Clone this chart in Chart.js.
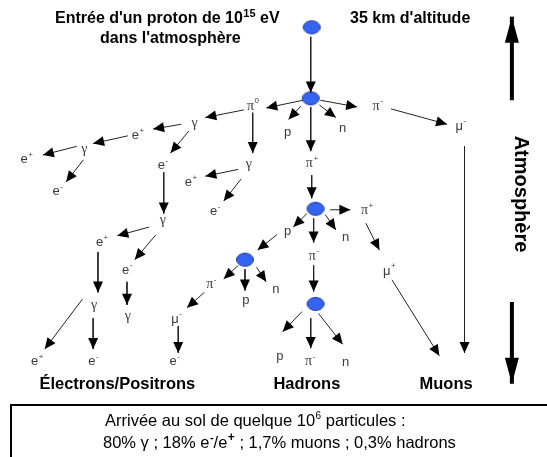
<!DOCTYPE html>
<html>
<head>
<meta charset="utf-8">
<script src="https://cdn.jsdelivr.net/npm/chart.js@4"></script>
<style>
  html, body { margin: 0; padding: 0; background: #fff; }
  canvas { display: block; }
</style>
</head>
<body>
<canvas id="myChart" width="547" height="457"></canvas>
<script>
// interaction points (blue circles)
var nodeX = [313, 312, 317, 244, 317];
var nodeY = [19, 93, 208, 261, 307];

// arrows: x1, y1, x2, y2
var arrows = [
    [312, 29, 312, 87], [304, 95, 266, 103], [302, 101, 289, 115], [321, 100, 338, 113],
    [322, 95, 360, 102], [312, 102, 312, 148], [395, 104, 453, 120], [471, 143, 471, 358],
    [252, 108, 252, 150], [243, 105, 203, 113], [178, 120, 149, 125], [186, 127, 167, 150],
    [123, 132, 87, 140], [70, 143, 35, 152], [77, 157, 59, 180], [160, 170, 160, 213],
    [237, 167, 203, 174], [240, 177, 222, 200], [145, 227, 112, 236], [152, 235, 130, 261],
    [92, 253, 92, 295], [122, 284, 122, 308], [76, 302, 37, 354], [87, 322, 87, 354],
    [313, 173, 313, 197], [332, 209, 353, 209], [308, 213, 294, 227], [315, 218, 315, 243],
    [327, 214, 338, 230], [277, 235, 257, 251], [237, 267, 222, 281], [244, 271, 244, 293],
    [256, 269, 266, 284], [315, 267, 315, 294], [202, 295, 184, 311], [175, 330, 175, 358],
    [303, 315, 283, 336], [312, 322, 312, 353], [320, 317, 345, 349], [369, 223, 383, 251],
    [396, 282, 445, 361]
];
// big side arrows
var sideArrows = [[520, 95, 520, 8], [520, 305, 520, 390]];

// particle labels: symbol, superscript, x, y
var particles = [
    ['π', '0', 252, 101], ['p', '', 288, 128], ['n', '', 345, 124], ['π', '-', 381, 101],
    ['μ', '-', 467, 122], ['π', '+', 313, 161], ['γ', '', 192, 119], ['γ', '', 248, 162],
    ['e', '+', 133, 132], ['γ', '', 78, 146], ['e', '+', 18, 157], ['e', '-', 50, 190],
    ['e', '-', 159, 163], ['γ', '', 159, 220], ['e', '+', 188, 181], ['e', '-', 213, 211],
    ['e', '+', 96, 243], ['e', '-', 122, 272], ['γ', '', 88, 308], ['γ', '', 123, 320],
    ['e', '+', 29, 367], ['e', '-', 87, 367], ['p', '', 288, 232], ['n', '', 348, 238],
    ['π', '+', 370, 210], ['π', '-', 315, 257], ['π', '-', 209, 287], ['p', '', 245, 303],
    ['n', '', 276, 292], ['μ', '-', 173, 323], ['e', '-', 171, 367], ['p', '', 280, 362],
    ['π', '-', 311, 367], ['n', '', 348, 368], ['μ', '+', 393, 273]
];

// group titles
var groupNames = ['Électrons/Positrons', 'Hadrons', 'Muons'];
var groupX = [112, 308, 452];
var groupY = [391, 391, 391];

// ellipse used as point style
var dot = document.createElement('canvas');
dot.width = 20; dot.height = 16;
(function () {
    var c = dot.getContext('2d');
    c.beginPath();
    c.ellipse(10, 8, 8.5, 6.5, 0, 0, Math.PI * 2);
    c.fillStyle = '#3464f0';
    c.fill();
    c.lineWidth = 1;
    c.strokeStyle = '#1f3b96';
    c.stroke();
})();

var datasets = [];
arrows.forEach(function (a) {
    datasets.push({
        data: [{x: a[0], y: a[1]}, {x: a[2], y: a[3]}],
        showLine: true, borderColor: '#222', borderWidth: 1,
        pointRadius: 0, clip: false, head: [11, 5]
    });
});
sideArrows.forEach(function (a) {
    datasets.push({
        data: [{x: a[0], y: a[1]}, {x: a[2], y: a[3]}],
        showLine: true, borderColor: '#000', borderWidth: 4,
        pointRadius: 0, clip: false, head: [26, 7]
    });
});
datasets.push({
    data: nodeX.map(function (x, i) { return {x: x, y: nodeY[i]}; }),
    pointStyle: dot, pointRadius: 8, showLine: false, clip: false
});

var arrowHeads = {
    id: 'arrowHeads',
    afterDatasetsDraw: function (chart) {
        var ctx = chart.ctx;
        chart.data.datasets.forEach(function (ds, i) {
            if (!ds.head) return;
            var pts = chart.getDatasetMeta(i).data;
            var p0 = pts[0], p1 = pts[1];
            var ang = Math.atan2(p1.y - p0.y, p1.x - p0.x);
            var L = ds.head[0], W = ds.head[1];
            ctx.save();
            ctx.translate(p1.x, p1.y);
            ctx.rotate(ang);
            ctx.beginPath();
            ctx.moveTo(0, 0);
            ctx.lineTo(-L, -W);
            ctx.lineTo(-L, W);
            ctx.closePath();
            ctx.fillStyle = '#000';
            ctx.fill();
            ctx.restore();
        });
    }
};

function supText(ctx, x, y, base, sup, baseFont, supFont, align) {
    ctx.font = baseFont;
    var wb = ctx.measureText(base).width;
    ctx.font = supFont;
    var ws = ctx.measureText(sup).width;
    var left = align === 'left' ? x : x - (wb + ws) / 2;
    ctx.textAlign = 'left';
    ctx.font = baseFont;
    ctx.fillText(base, left, y);
    ctx.font = supFont;
    ctx.fillText(sup, left + wb + 0.5, y - 5);
    return left + wb + ws + 0.5;
}

var texts = {
    id: 'texts',
    afterDraw: function (chart) {
        var ctx = chart.ctx, sx = chart.scales.x, sy = chart.scales.y;
        ctx.save();
        ctx.textBaseline = 'middle';
        ctx.fillStyle = '#3a3a3a';
        particles.forEach(function (p) {
            var serif = (p[0] === 'π' || p[0] === 'γ');
            var bf = serif ? '14px "Liberation Serif"' : '13px "Liberation Sans"';
            supText(ctx, sx.getPixelForValue(p[2]), sy.getPixelForValue(p[3]), p[0], p[1],
                bf, '8px "Liberation Sans"', 'center');
        });

        ctx.fillStyle = '#000';
        ctx.textAlign = 'center';
        ctx.font = 'bold 16.5px "Liberation Sans"';
        groupNames.forEach(function (g, i) {
            ctx.fillText(g, sx.getPixelForValue(groupX[i]), sy.getPixelForValue(groupY[i]));
        });

        // top captions
        var end = supText(ctx, 55, 19, "Entrée d'un proton de 10", '15',
            'bold 16px "Liberation Sans"', 'bold 11px "Liberation Sans"', 'left');
        ctx.font = 'bold 16px "Liberation Sans"';
        ctx.textAlign = 'left';
        ctx.fillText(' eV', end, 19);
        ctx.fillText("dans l'atmosphère", 100, 39);
        ctx.fillText("35 km d'altitude", 350, 19);

        // vertical caption
        ctx.save();
        ctx.translate(521, 194);
        ctx.rotate(Math.PI / 2);
        ctx.textAlign = 'center';
        ctx.font = 'bold 20px "Liberation Sans"';
        ctx.fillText('Atmosphère', 0, 0);
        ctx.restore();

        // bottom box
        ctx.lineWidth = 2;
        ctx.strokeStyle = '#000';
        ctx.strokeRect(11, 405, 545, 60);
        var f = '16.5px "Liberation Sans"', fs = '10px "Liberation Sans"';
        var e1 = supText(ctx, 105, 421, 'Arrivée au sol de quelque 10', '6', f, fs, 'left');
        ctx.font = f; ctx.textAlign = 'left';
        ctx.fillText(' particules :', e1, 421);
        var e2 = supText(ctx, 103, 443, '80% γ ; 18% e', '-', f, 'bold 11px "Liberation Sans"', 'left');
        ctx.font = f; ctx.textAlign = 'left';
        var e3 = supText(ctx, e2, 443, '/e', '+', f, 'bold 12px "Liberation Sans"', 'left');
        ctx.font = f; ctx.textAlign = 'left';
        ctx.fillText(' ; 1,7% muons ; 0,3% hadrons', e3, 443);
        ctx.restore();
    }
};

new Chart(document.getElementById('myChart').getContext('2d'), {
    type: 'scatter',
    data: { datasets: datasets },
    options: {
        responsive: false,
        animation: false,
        devicePixelRatio: 1,
        layout: { padding: 0 },
        plugins: { legend: { display: false }, tooltip: { enabled: false } },
        scales: {
            x: { type: 'linear', min: 0, max: 547, display: false },
            y: { type: 'linear', min: 0, max: 457, reverse: true, display: false }
        }
    },
    plugins: [arrowHeads, texts]
});
</script>
</body>
</html>
